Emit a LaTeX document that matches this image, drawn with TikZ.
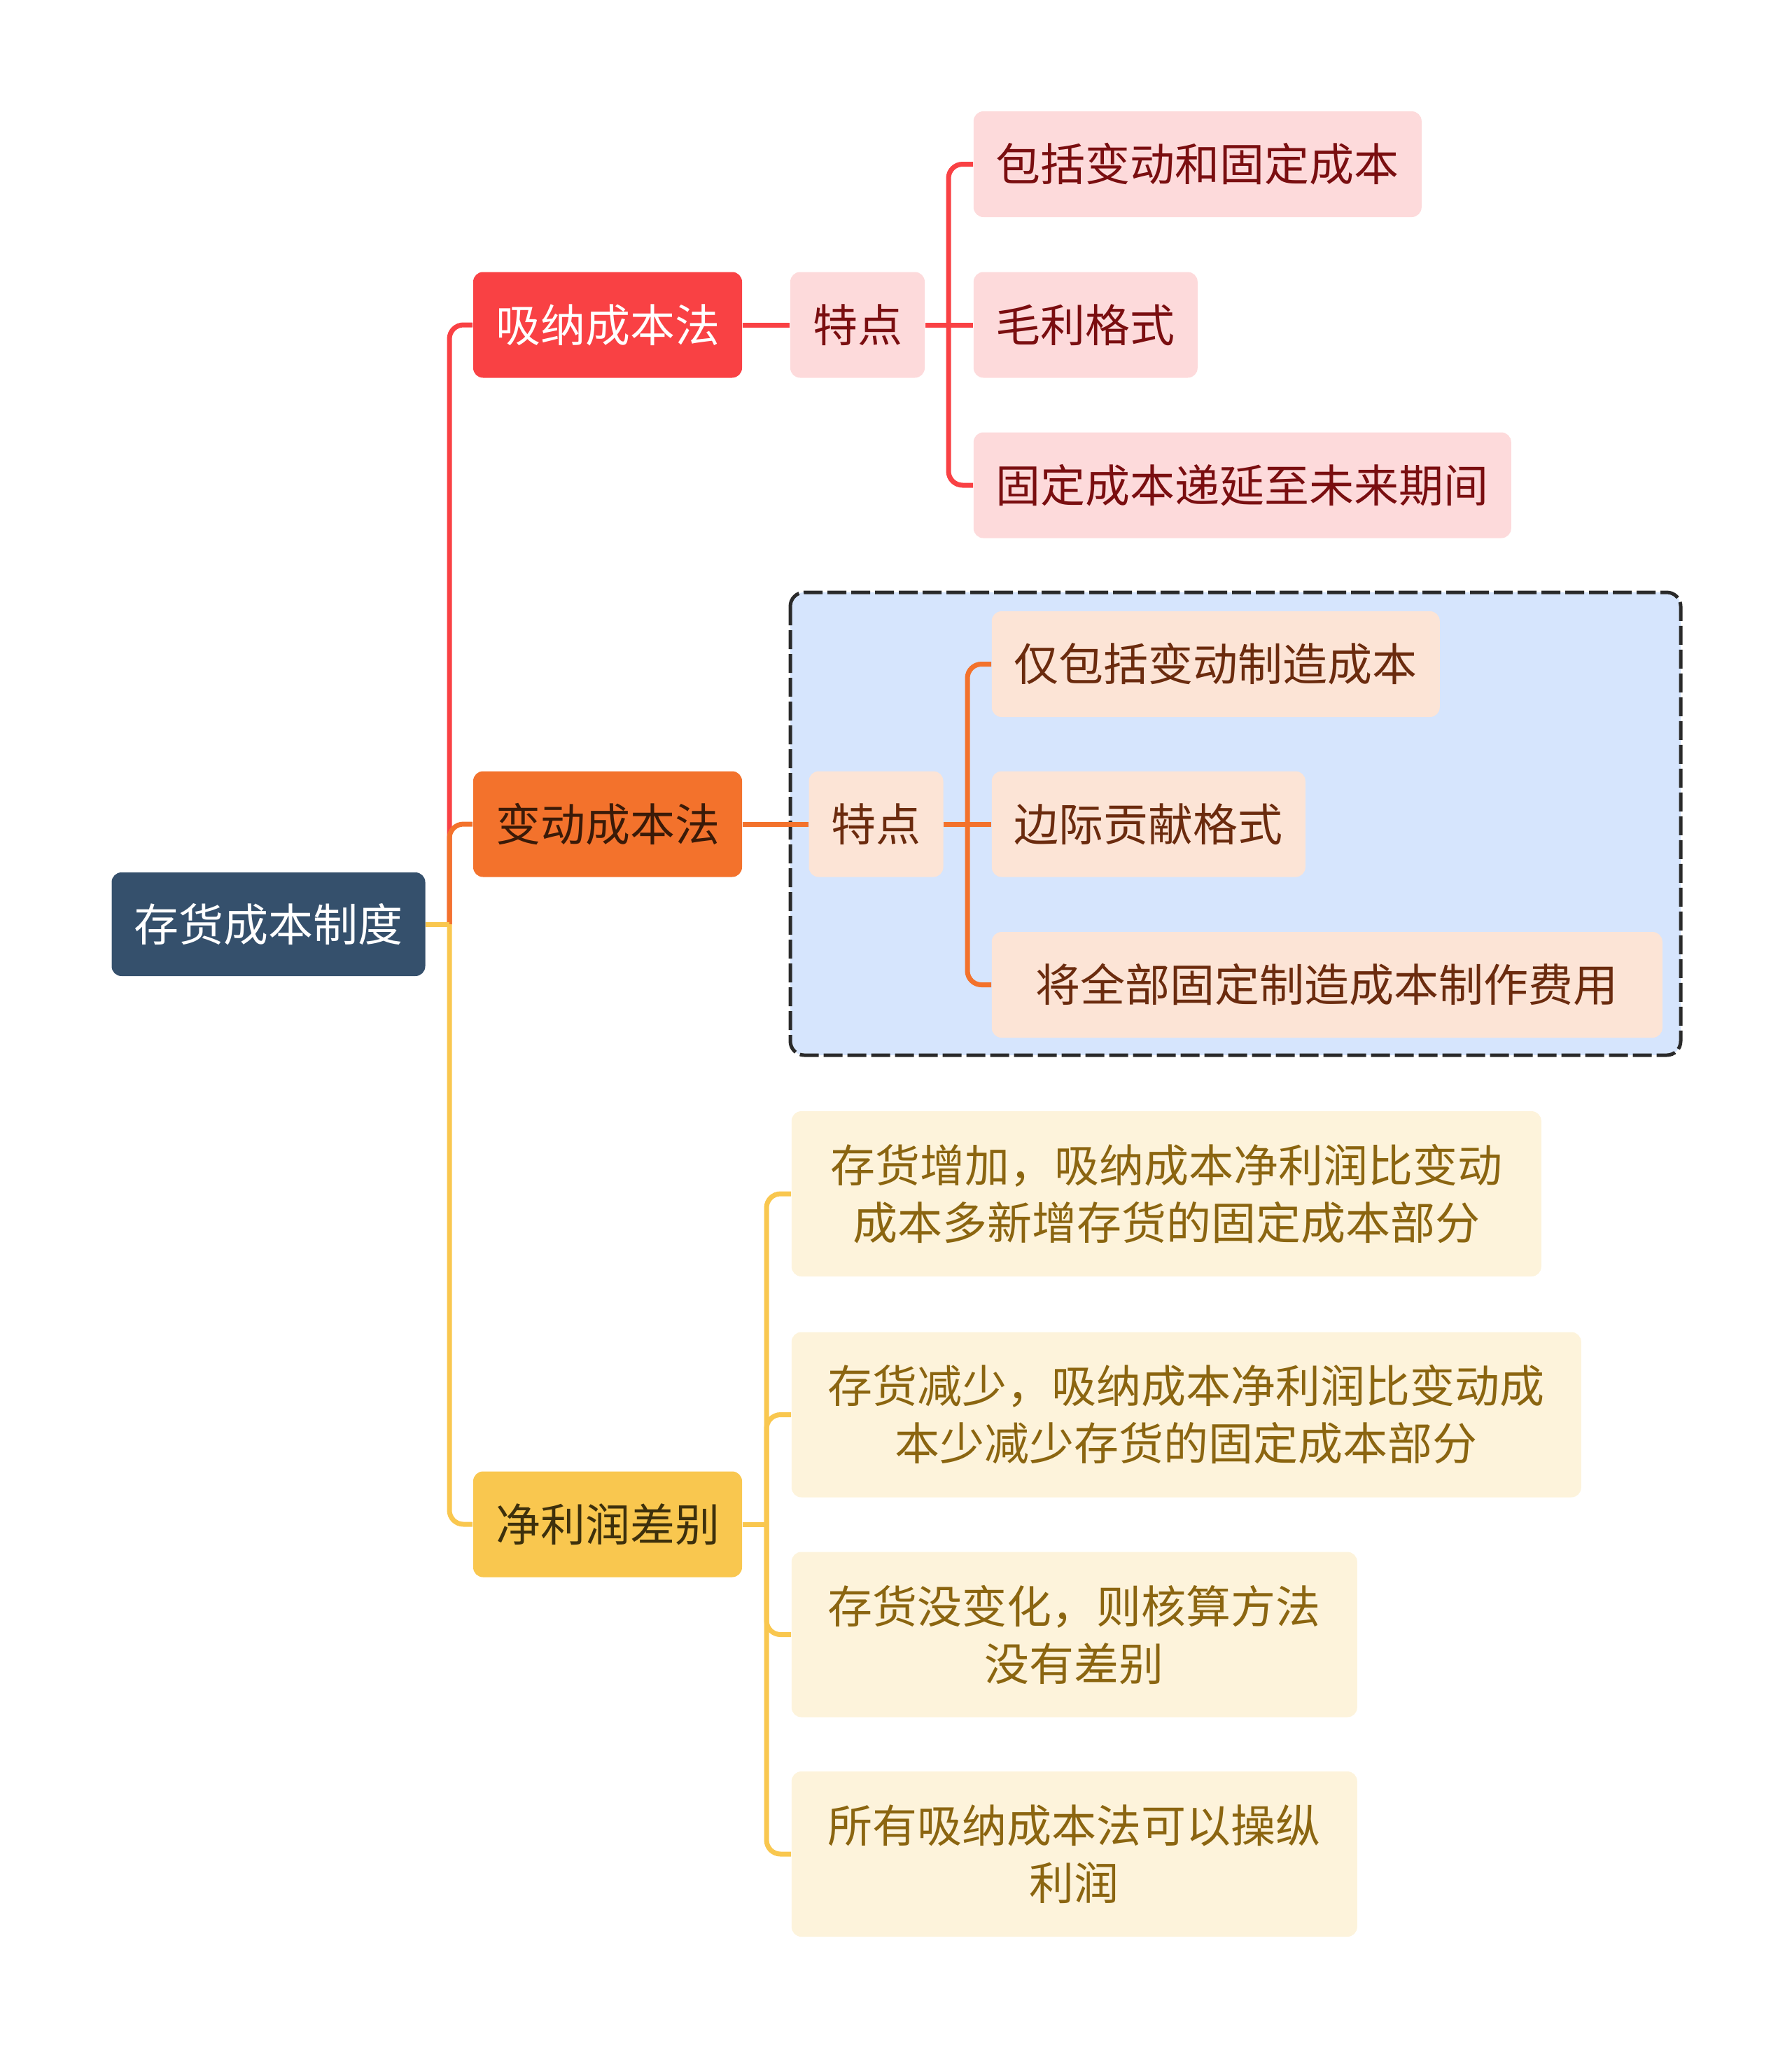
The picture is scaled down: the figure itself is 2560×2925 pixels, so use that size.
\documentclass[tikz,border=0pt]{standalone}
\usepackage{fontspec}
\setmainfont{Noto Sans CJK SC}
\usepackage{xcolor}
\usetikzlibrary{backgrounds}
\definecolor{rootblue}{HTML}{35506C}
\definecolor{absred}{HTML}{F94144}
\definecolor{varorange}{HTML}{F3722C}
\definecolor{profyellow}{HTML}{F9C74F}
\definecolor{vardark}{HTML}{3A1A08}
\definecolor{profdark}{HTML}{3D300C}
\definecolor{rpink}{HTML}{FDDADB}
\definecolor{rtext}{HTML}{7A0E10}
\definecolor{opeach}{HTML}{FCE4D6}
\definecolor{otext}{HTML}{6B2B0E}
\definecolor{ycream}{HTML}{FDF3DB}
\definecolor{ytext}{HTML}{8B6510}
\definecolor{zoneblue}{HTML}{D6E5FD}
\definecolor{zoneedge}{HTML}{2A2A2A}

\begin{document}
\begin{tikzpicture}[x=0.25pt, y=-0.25pt,
  box/.style={rounded corners=3.5pt, inner xsep=8pt, inner ysep=2pt, minimum height=37.75pt, align=center, font=\fontsize{16pt}{20.5pt}\selectfont},
  rootbox/.style={box, fill=rootblue, text=white, minimum height=37pt},
  rbox/.style={box, fill=absred, text=white},
  obox/.style={box, fill=varorange, text=vardark},
  ybox/.style={box, fill=profyellow, text=profdark},
  rleaf/.style={box, fill=rpink, text=rtext},
  oleaf/.style={box, fill=opeach, text=otext},
  yleaf/.style={box, fill=ycream, text=ytext, inner xsep=13pt, minimum height=59pt},
  link/.style={line width=1.75pt, rounded corners=5pt},
  rline/.style={link, draw=absred},
  oline/.style={link, draw=varorange},
  yline/.style={link, draw=profyellow},
  zone/.style={draw=zoneedge, fill=zoneblue, line width=1.25pt, dash pattern=on 6.75pt off 1.75pt, rounded corners=5pt}
]
\useasboundingbox (0,0) rectangle (2560,2925);
% root and main branches
\node[rootbox] (root)     at (383.5,1320) {存货成本制度};
\node[rbox]    (absorb)   at (868,464)    {吸纳成本法};
\node[obox]    (variable) at (868,1177)   {变动成本法};
\node[ybox]    (profit)   at (868,2177)   {净利润差别};
% absorption costing
\node[rleaf] (featA) at (1225,464) {特点};
\node[rleaf, anchor=west] (a1) at (1390,234.5) {包括变动和固定成本};
\node[rleaf, anchor=west] (a2) at (1390,464)   {毛利格式};
\node[rleaf, anchor=west] (a3) at (1390,693)   {固定成本递延至未来期间};
% variable costing
\node[oleaf] (featB) at (1251.5,1177) {特点};
\node[oleaf, anchor=west] (b1) at (1416,948.5)  {仅包括变动制造成本};
\node[oleaf, anchor=west] (b2) at (1416,1177)   {边际贡献格式};
\node[oleaf, anchor=west, minimum width=239.5pt] (b3) at (1416,1406.5) {将全部固定制造成本制作费用};
% profit difference
\node[yleaf, anchor=west, minimum width=267.75pt] (y1) at (1130,1705) {存货增加，吸纳成本净利润比变动\\成本多新增存货的固定成本部分};
\node[yleaf, anchor=west] (y2) at (1130,2020.5) {存货减少，吸纳成本净利润比变动成\\本少减少存货的固定成本部分};
\node[yleaf, anchor=west] (y3) at (1130,2334.5) {存货没变化，则核算方法\\没有差别};
\node[yleaf, anchor=west] (y4) at (1130,2648)   {所有吸纳成本法可以操纵\\利润};
\begin{scope}[on background layer]
\draw[zone] (1129,846) rectangle (2401,1507);
\end{scope}
\coordinate (spine)  at (642,1320);
\coordinate (ajoint) at (1355,464);
\coordinate (bjoint) at (1382,1177);
\coordinate (yjoint) at (1095,2177);
% connectors
\draw[rline] (spine) |- (absorb.west);
\draw[oline] (spine) |- (variable.west);
\draw[yline] (spine) |- (profit.west);
\draw[yline] (root.east) -- (spine);
\draw[rline] (absorb.east) -- (featA.west);
\draw[rline] (featA.east) -- (a2.west);
\foreach \n in {a1,a3} \draw[rline] (ajoint) |- (\n.west);
\draw[oline] (variable.east) -- (featB.west);
\draw[oline] (featB.east) -- (b2.west);
\foreach \n in {b1,b3} \draw[oline] (bjoint) |- (\n.west);
\draw[yline] (profit.east) -- (yjoint);
\foreach \n in {y1,y2,y3,y4} \draw[yline] (yjoint) |- (\n.west);
\end{tikzpicture}
\end{document}
